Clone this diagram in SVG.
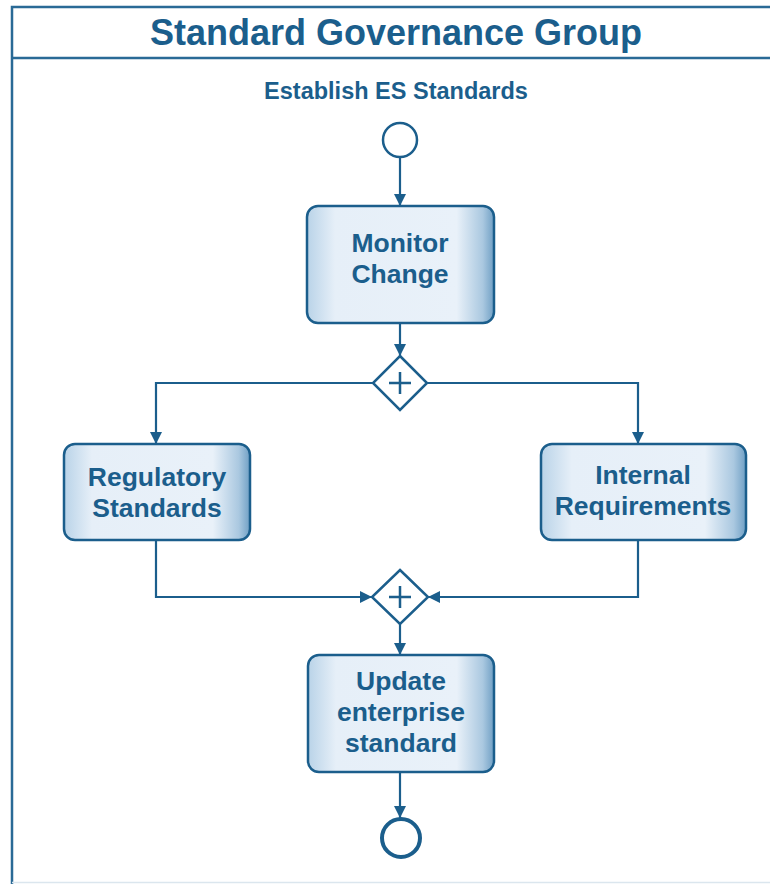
<svg xmlns="http://www.w3.org/2000/svg" width="770" height="884" viewBox="0 0 770 884">
  <defs>
    <linearGradient id="taskFill" x1="0" y1="0" x2="1" y2="0">
      <stop offset="0" stop-color="#b9d3e8"/>
      <stop offset="0.15" stop-color="#e6eff8"/>
      <stop offset="0.8" stop-color="#e9f1f9"/>
      <stop offset="0.94" stop-color="#aac8e0"/>
      <stop offset="1" stop-color="#6f9fc4"/>
    </linearGradient>
    <marker id="arrow" viewBox="0 0 12 12" refX="12" refY="6" markerWidth="12" markerHeight="12" markerUnits="userSpaceOnUse" orient="auto">
      <path d="M0,0 L12,6 L0,12 z" fill="#1b5e8c"/>
    </marker>
  </defs>
  <style>
    .frame { fill: none; stroke: #2a6a96; stroke-width: 2.5; }
    .task { fill: url(#taskFill); stroke: #1b5e8c; stroke-width: 2.5; }
    .gw { fill: #ffffff; stroke: #1b5e8c; stroke-width: 2.5; }
    .gwmark { stroke: #1b5e8c; stroke-width: 2.5; fill: none; }
    .flow { fill: none; stroke: #1b5e8c; stroke-width: 2.2; marker-end: url(#arrow); }
    .lbl { font-family: "Liberation Sans", Arial, sans-serif; font-weight: bold; fill: #1b5e8c; text-anchor: middle; }
    .task-lbl { font-size: 26.5px; }
  </style>

  <rect width="770" height="884" fill="#ffffff"/>

  <!-- pool frame with title header -->
  <g id="pool">
    <path class="frame" d="M780,7 L12,7 L12,884"/>
    <line class="frame" x1="12" y1="58" x2="780" y2="58"/>
    <line x1="12" y1="882.5" x2="770" y2="882.5" stroke="#dbe6ee" stroke-width="1.5"/>
    <text class="lbl" x="396" y="45" font-size="36">Standard Governance Group</text>
    <text class="lbl" x="396" y="99" font-size="23.5">Establish ES Standards</text>
  </g>

  <!-- sequence flows -->
  <g id="connectors">
    <line class="flow" x1="400" y1="158" x2="400" y2="206"/>
    <line class="flow" x1="400" y1="323" x2="400" y2="356"/>
    <path class="flow" d="M373,383 L156,383 L156,444"/>
    <path class="flow" d="M427,383 L638,383 L638,444"/>
    <path class="flow" d="M156,540 L156,597 L372,597"/>
    <path class="flow" d="M638,540 L638,597 L428,597"/>
    <line class="flow" x1="400" y1="624" x2="400" y2="655"/>
    <line class="flow" x1="400" y1="772" x2="400" y2="818"/>
  </g>

  <g id="start">
    <circle cx="400" cy="140" r="17" fill="#ffffff" stroke="#1b5e8c" stroke-width="2.5"/>
  </g>

  <g id="monitor-change">
    <rect class="task" x="307" y="206" width="187" height="117" rx="11"/>
    <text class="lbl task-lbl" x="400" y="252">Monitor</text>
    <text class="lbl task-lbl" x="400" y="283">Change</text>
  </g>

  <g id="split-gateway">
    <path class="gw" d="M400,356 L427,383 L400,410 L373,383 z"/>
    <path class="gwmark" d="M400,372 L400,394 M389,383 L411,383"/>
  </g>

  <g id="regulatory-standards">
    <rect class="task" x="64" y="444" width="186" height="96" rx="11"/>
    <text class="lbl task-lbl" x="157" y="486">Regulatory</text>
    <text class="lbl task-lbl" x="157" y="517">Standards</text>
  </g>

  <g id="internal-requirements">
    <rect class="task" x="541" y="444" width="205" height="96" rx="11"/>
    <text class="lbl task-lbl" x="643" y="484">Internal</text>
    <text class="lbl task-lbl" x="643" y="515">Requirements</text>
  </g>

  <g id="join-gateway">
    <path class="gw" d="M400,570 L428,597 L400,624 L372,597 z"/>
    <path class="gwmark" d="M400,586 L400,608 M389,597 L411,597"/>
  </g>

  <g id="update-standard">
    <rect class="task" x="308" y="655" width="186" height="117" rx="11"/>
    <text class="lbl task-lbl" x="401" y="690">Update</text>
    <text class="lbl task-lbl" x="401" y="721">enterprise</text>
    <text class="lbl task-lbl" x="401" y="752">standard</text>
  </g>

  <g id="end">
    <circle cx="401" cy="838" r="19" fill="#ffffff" stroke="#1b5e8c" stroke-width="4"/>
  </g>
</svg>
